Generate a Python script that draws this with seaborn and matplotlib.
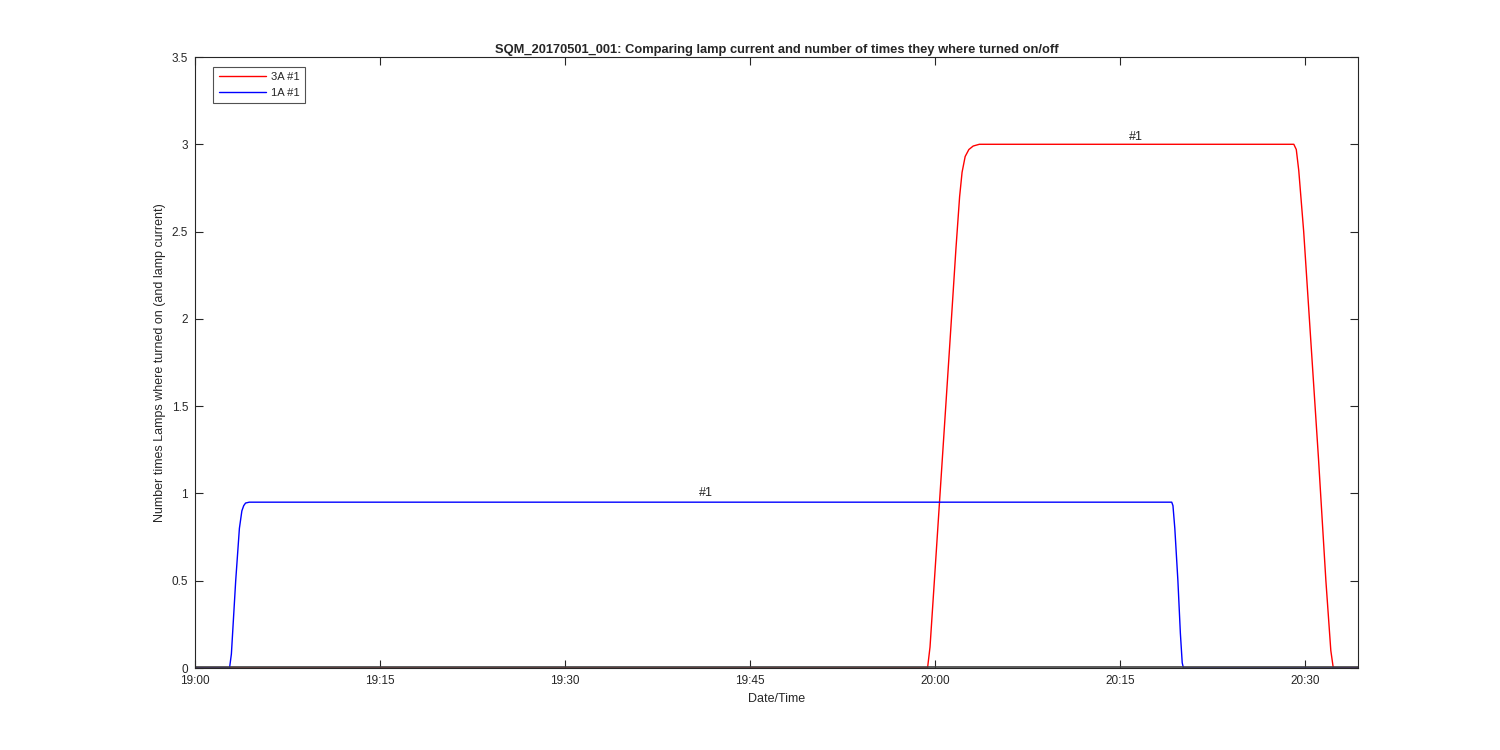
import numpy as np
import pandas as pd
import matplotlib

matplotlib.use('Agg')
import matplotlib.pyplot as plt
import seaborn as sns

# minutes after 19:00 and values
t_3a = [0, 59.4, 59.6, 60.0, 60.6, 61.2, 61.7, 62.0, 62.2, 62.45, 62.75, 63.1, 63.6, 89.1, 89.3, 89.5, 89.9, 90.5, 91.1, 91.7, 92.1, 92.3, 94.3]
v_3a = [0, 0, 0.12, 0.55, 1.2, 1.85, 2.4, 2.7, 2.84, 2.93, 2.97, 2.99, 3.0, 3.0, 2.97, 2.85, 2.5, 1.85, 1.2, 0.5, 0.1, 0, 0]
t_1a = [0, 2.8, 2.95, 3.3, 3.6, 3.8, 3.95, 4.1, 4.4, 79.2, 79.3, 79.45, 79.7, 79.9, 80.05, 80.15, 94.3]
v_1a = [0, 0, 0.08, 0.5, 0.8, 0.9, 0.93, 0.945, 0.95, 0.95, 0.93, 0.8, 0.5, 0.2, 0.03, 0, 0]
t_base = [0, 94.3]
v_base = [0.008, 0.008]

tick_min = [0, 15, 30, 45, 60, 75, 90]
tick_lab = ['19:00', '19:15', '19:30', '19:45', '20:00', '20:15', '20:30']

df = pd.concat([
    pd.DataFrame({'t': t_3a, 'v': v_3a, 'lamp': '3A #1'}),
    pd.DataFrame({'t': t_1a, 'v': v_1a, 'lamp': '1A #1'}),
])

sns.set_style("ticks")
plt.rcParams['font.family'] = ['Liberation Sans', 'DejaVu Sans']

fig = plt.figure(figsize=[15, 7.5], dpi=100)
ax = fig.add_axes([0.13, 0.1093, 0.7753, 0.8147])
sns.lineplot(data=df, x='t', y='v', hue='lamp', palette={'3A #1': '#ff0000', '1A #1': '#0000ff'},
             lw=1.0, sort=False, estimator=None, ax=ax)
ax.plot(t_base, v_base, color='#404040', lw=1.2)

ax.text(41.4, 0.97, '#1', ha='center', va='bottom', fontsize=9)
ax.text(76.3, 3.01, '#1', ha='center', va='bottom', fontsize=9)

ax.set_xlim(0, 94.3)
ax.set_ylim(0, 3.5)
ax.set_xticks(tick_min)
ax.set_xticklabels(tick_lab)
ax.set_yticks(np.arange(0, 3.51, 0.5))
ax.set_yticklabels(['0', '0.5', '1', '1.5', '2', '2.5', '3', '3.5'])
ax.tick_params(direction='in', top=True, right=True, labelsize=8.5, length=6, width=0.8, pad=5)
for s in ax.spines.values():
    s.set_linewidth(0.8)
    s.set_color('#262626')
ax.set_xlabel('Date/Time', fontsize=9)
ax.set_ylabel('Number times Lamps where turned on (and lamp current)', fontsize=9)
ax.set_title('SQM_20170501_001: Comparing lamp current and number of times they where turned on/off',
             fontsize=9.3, fontweight='bold', pad=3)
leg = ax.legend(loc='upper left', bbox_to_anchor=(0.011, 0.993), fontsize=8, frameon=True, fancybox=False,
                edgecolor='#262626', borderpad=0.5, handlelength=4.2, handletextpad=0.5)
leg.get_frame().set_linewidth(0.8)

fig.savefig('out.png', dpi=100)
